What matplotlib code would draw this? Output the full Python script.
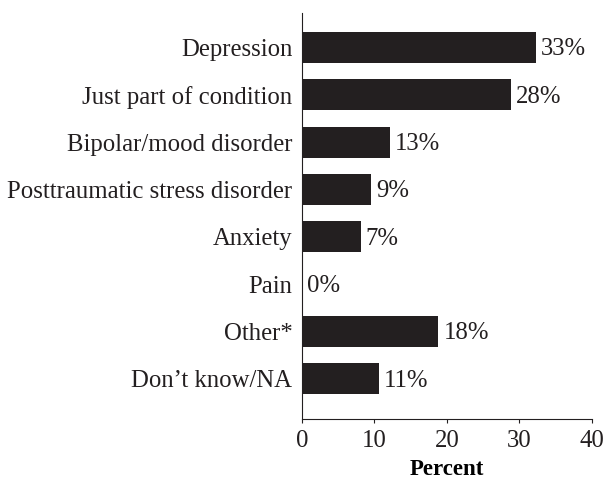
import numpy as np
import matplotlib.pyplot as plt

# data
categories = ["Depression", "Just part of condition", "Bipolar/mood disorder",
              "Posttraumatic stress disorder", "Anxiety", "Pain", "Other*",
              "Don\u2019t know/NA"]
values = [32.3, 28.8, 12.1, 9.5, 8.1, 0.0, 18.8, 10.6]
labels = ["33%", "28%", "13%", "9%", "7%", "0%", "18%", "11%"]
xticks = [0, 10, 20, 30, 40]

plt.rcParams['font.family'] = ['Liberation Serif', 'DejaVu Serif']
plt.rcParams['font.size'] = 17.8

fig = plt.figure(figsize=(6.04, 4.8), dpi=100)
ax = fig.add_axes([0.5, 0.128, 0.48, 0.845])

y = np.arange(len(categories))
ax.barh(y, values, height=0.66, color="#231f20")

# labels a bit right of the bar end
for yi, v, lab in zip(y, values, labels):
    ax.text(v + 0.7, yi + 0.04, lab, va="center", ha="left", color="#231f20")

ax.set_yticks(y)
ax.set_yticklabels(categories)
ax.set_ylim(7.84, -0.73)
ax.set_xlim(0, 40)
ax.set_xticks(xticks)
ax.set_xlabel("Percent", fontweight="bold", fontsize=16.5, labelpad=5)

ax.spines["top"].set_visible(False)
ax.spines["right"].set_visible(False)
ax.spines["left"].set_color("#231f20")
ax.spines["bottom"].set_color("#231f20")
ax.tick_params(axis="y", length=0, pad=7, colors="#231f20")
ax.tick_params(axis="x", direction="out", length=3, colors="#231f20", pad=5)

fig.savefig("out.png", dpi=100)
